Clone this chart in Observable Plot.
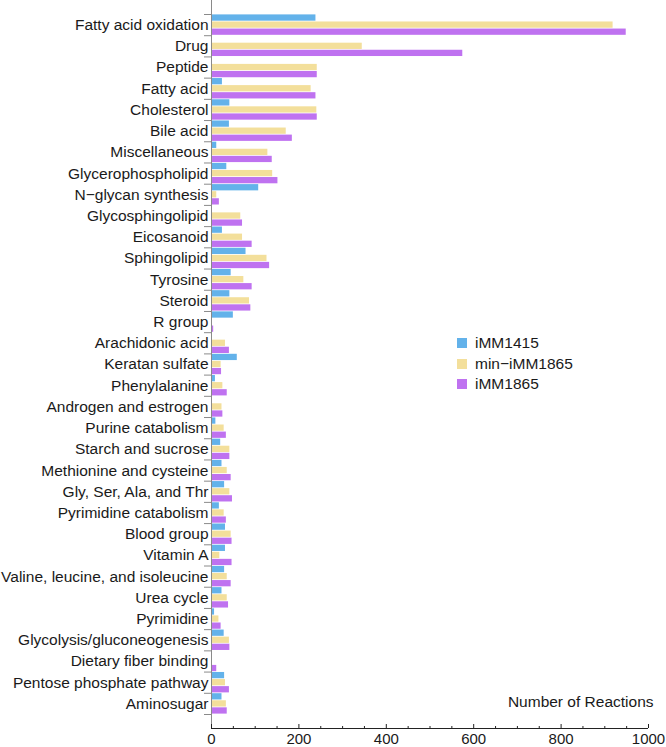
<!DOCTYPE html>
<html><head><meta charset="utf-8">
<script src="https://cdn.jsdelivr.net/npm/d3@7"></script>
<script src="https://cdn.jsdelivr.net/npm/@observablehq/plot@0.6"></script>
<style>
body{margin:0;background:#fff;}
#wrap{position:relative;width:666px;height:747px;font-family:"Liberation Sans",Arial,sans-serif;}
.legend{position:absolute;left:457px;top:333px;font-size:15.5px;color:#1a1a1a;}
.legend .row{display:flex;align-items:center;height:20.5px;}
.legend .sw{width:10px;height:10px;margin-right:8px;}
</style></head><body><div id="wrap"></div>
<script>
const categories = ["Fatty acid oxidation","Drug","Peptide","Fatty acid","Cholesterol","Bile acid","Miscellaneous","Glycerophospholipid","N\u2212glycan synthesis","Glycosphingolipid","Eicosanoid","Sphingolipid","Tyrosine","Steroid","R group","Arachidonic acid","Keratan sulfate","Phenylalanine","Androgen and estrogen","Purine catabolism","Starch and sucrose","Methionine and cysteine","Gly, Ser, Ala, and Thr","Pyrimidine catabolism","Blood group","Vitamin A","Valine, leucine, and isoleucine","Urea cycle","Pyrimidine","Glycolysis/gluconeogenesis","Dietary fiber binding","Pentose phosphate pathway","Aminosugar"];
const iMM1415    = [239,0,0,25,42,41,12,35,108,0,25,79,45,42,50,0,59,9,0,10,21,24,30,18,32,32,30,24,7,29,0,30,24];
const minIMM1865 = [919,345,242,228,241,171,129,140,12,67,71,127,74,87,0,32,22,26,24,29,42,36,42,29,45,19,36,36,17,41,0,32,34];
const iMM1865    = [949,575,242,239,242,185,139,152,18,71,93,133,93,90,5,41,23,36,26,34,42,45,48,34,47,47,45,39,22,42,12,41,36];
const seriesNames = ["iMM1415","min\u2212iMM1865","iMM1865"];
const seriesColors = ["#63b2ea","#f3df9b","#bf72f0"];
const majorTicks = [0,200,400,600,800,1000];
const minorTicks = [50,100,150,250,300,350,450,500,550,650,700,750,850,900,950];
const xLabel = "Number of Reactions";

const seriesValues = [iMM1415, minIMM1865, iMM1865];
const rows = [];
categories.forEach((c, i) => {
  seriesValues.forEach((vals, s) => {
    rows.push({category: c, series: seriesNames[s], value: vals[i], y1: i + s / 3, y2: i + (s + 1) / 3});
  });
});
const yDomain = [-0.66, categories.length + 0.66];

const chart = Plot.plot({
  width: 666, height: 747,
  marginLeft: 211, marginRight: 18, marginTop: 0, marginBottom: 19,
  style: {fontFamily: "'Liberation Sans', Arial, sans-serif", fontSize: "15px", color: "#1a1a1a", background: "#fff"},
  x: {domain: [0, 1000], axis: null},
  y: {domain: yDomain, reverse: true, axis: null},
  color: {domain: seriesNames, range: seriesColors},
  marks: [
    Plot.rect(rows, {x1: 0, x2: "value", y1: "y1", y2: "y2", fill: "series", insetTop: 0.4, insetBottom: 0.4}),
    Plot.axisY(d3.range(categories.length + 1), {anchor: "left", tickSize: 7, tickFormat: () => "", stroke: "#8a8a8a", label: null}),
    Plot.axisY(categories.map((_, i) => i + 0.5), {anchor: "left", tickSize: 0, tickPadding: 3, tickFormat: d => categories[Math.floor(d)], fontSize: 15.5, label: null}),
    Plot.ruleX([0], {stroke: "#8a8a8a"}),
    Plot.ruleY([yDomain[1]], {stroke: "#222"}),
    Plot.axisX(majorTicks, {anchor: "bottom", tickSize: 0, tickPadding: 5, tickFormat: d => String(d), fontSize: 15, label: null}),
    Plot.axisX(majorTicks, {anchor: "bottom", tickSize: -4, tickFormat: () => "", stroke: "#222", label: null}),
    Plot.axisX(minorTicks, {anchor: "bottom", tickSize: -2, tickFormat: () => "", stroke: "#222", label: null}),
    Plot.text([xLabel], {frameAnchor: "bottom-right", textAnchor: "end", dx: 5, dy: -22, fontSize: 15.5, fill: "#1a1a1a"})
  ]
});
const wrap = document.getElementById("wrap");
wrap.appendChild(chart);
const legend = document.createElement("div");
legend.className = "legend";
seriesNames.forEach((n, i) => {
  const row = document.createElement("div");
  row.className = "row";
  const sw = document.createElement("span");
  sw.className = "sw";
  sw.style.background = seriesColors[i];
  const t = document.createElement("span");
  t.textContent = n;
  row.appendChild(sw); row.appendChild(t);
  legend.appendChild(row);
});
wrap.appendChild(legend);
</script>
</body></html>
